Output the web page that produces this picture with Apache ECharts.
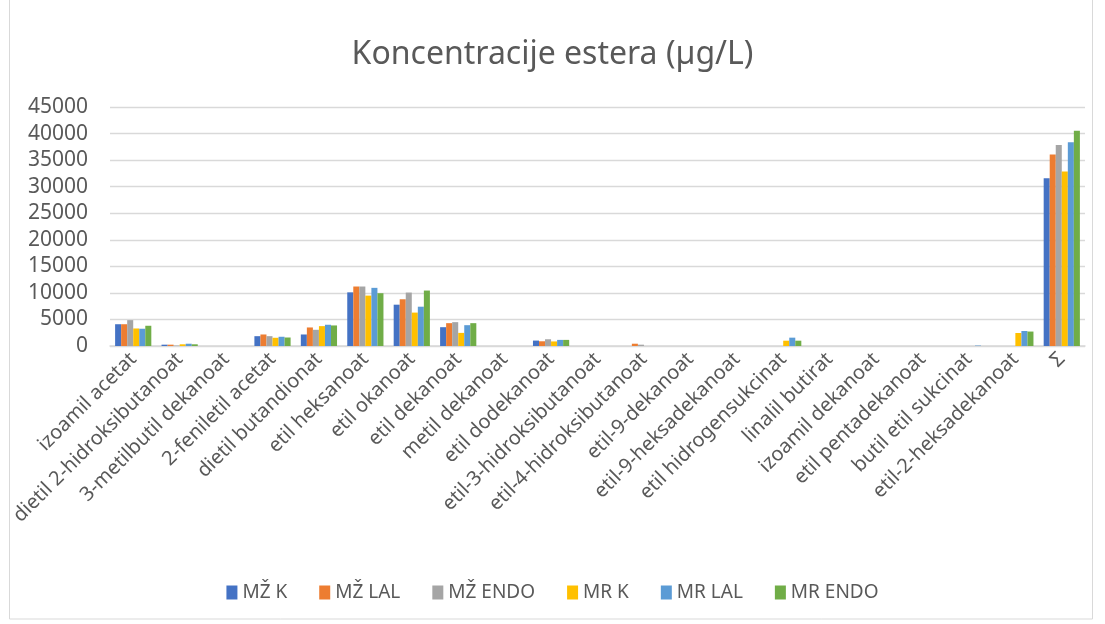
<!DOCTYPE html>
<html>
<head>
<meta charset="utf-8">
<script src="https://cdn.jsdelivr.net/npm/echarts@6/dist/echarts.min.js"></script>
<style>
html,body{margin:0;padding:0;background:#fff;}
#chart{width:1105px;height:624px;}
</style>
</head>
<body>
<div id="chart"></div>
<script>
const categories = ["izoamil acetat","dietil 2-hidroksibutanoat","3-metilbutil dekanoat","2-feniletil acetat","dietil butandionat","etil heksanoat","etil okanoat","etil dekanoat","metil dekanoat","etil dodekanoat","etil-3-hidroksibutanoat","etil-4-hidroksibutanoat","etil-9-dekanoat","etil-9-heksadekanoat","etil hidrogensukcinat","linalil butirat","izoamil dekanoat","etil pentadekanoat","butil etil sukcinat","etil-2-heksadekanoat","Σ"];
const seriesNames = ["MŽ K","MŽ LAL","MŽ ENDO","MR K","MR LAL","MR ENDO"];
const mzK    = [4100, 250, 0, 1850, 2170, 10100, 7780, 3540, 0, 1020, 0, 0, 0, 0, 0, 0, 0, 0, 0, 0, 31590];
const mzLAL  = [4100, 250, 0, 2170, 3490, 11200, 8800, 4300, 0, 890, 0, 430, 0, 0, 0, 0, 0, 0, 0, 0, 36060];
const mzENDO = [4870, 80, 0, 1850, 3050, 11200, 10060, 4490, 0, 1270, 0, 250, 0, 0, 0, 0, 0, 0, 0, 0, 37850];
const mrK    = [3300, 320, 0, 1550, 3740, 9490, 6290, 2470, 0, 860, 0, 0, 0, 0, 1000, 0, 0, 0, 0, 2450, 32840];
const mrLAL  = [3250, 430, 0, 1740, 4000, 10950, 7400, 3920, 0, 1150, 0, 0, 0, 0, 1570, 0, 0, 0, 80, 2830, 38350];
const mrENDO = [3810, 320, 0, 1600, 3870, 9940, 10440, 4300, 0, 1150, 0, 0, 0, 0, 1000, 0, 0, 0, 0, 2720, 40510];
const yTicks = [0, 5000, 10000, 15000, 20000, 25000, 30000, 35000, 40000, 45000];

const colors = ["#4472C4","#ED7D31","#A5A5A5","#FFC000","#5B9BD5","#70AD47"];
const allData = [mzK, mzLAL, mzENDO, mrK, mrLAL, mrENDO];
const font = "'Noto Sans', 'Open Sans', sans-serif";

const chart = echarts.init(document.getElementById('chart'), null, {renderer:'canvas'});
chart.setOption({
  animation: false,
  color: colors,
  title: {
    text: "Koncentracije estera (µg/L)",
    left: 'center',
    top: 34,
    textStyle: {fontFamily: font, fontSize: 32, fontWeight: 'normal', color: '#595959'}
  },
  graphic: [{
    type: 'rect', shape: {x: 9.5, y: -2, width: 1083, height: 621},
    style: {fill: 'none', stroke: '#d9d9d9', lineWidth: 1}, silent: true, z: -10
  }],
  legend: {
    bottom: 17,
    left: 'center',
    itemWidth: 11, itemHeight: 14, itemGap: 32,
    icon: 'rect',
    textStyle: {fontFamily: font, fontSize: 19, color: '#595959'},
    data: seriesNames
  },
  grid: {left: 110, right: 20, top: 107, bottom: 278, containLabel: false},
  xAxis: {
    type: 'category',
    data: categories,
    axisTick: {show: false},
    axisLine: {lineStyle: {color: '#d9d9d9', width: 1.5}},
    axisLabel: {rotate: 45, interval: 0, margin: 10, fontFamily: font, fontSize: 20, color: '#595959'}
  },
  yAxis: {
    type: 'value',
    min: yTicks[0], max: yTicks[yTicks.length-1], interval: 5000,
    axisLine: {show: false}, axisTick: {show: false},
    splitLine: {lineStyle: {color: '#d9d9d9', width: 1.3}},
    axisLabel: {fontFamily: font, fontSize: 21, color: '#595959', margin: 22, formatter: v => String(v)}
  },
  series: seriesNames.map((n, i) => ({
    name: n, type: 'bar', data: allData[i],
    barGap: '0%', barCategoryGap: '22%',
    itemStyle: {color: colors[i], borderWidth: 0}
  }))
});
</script>
</body>
</html>
